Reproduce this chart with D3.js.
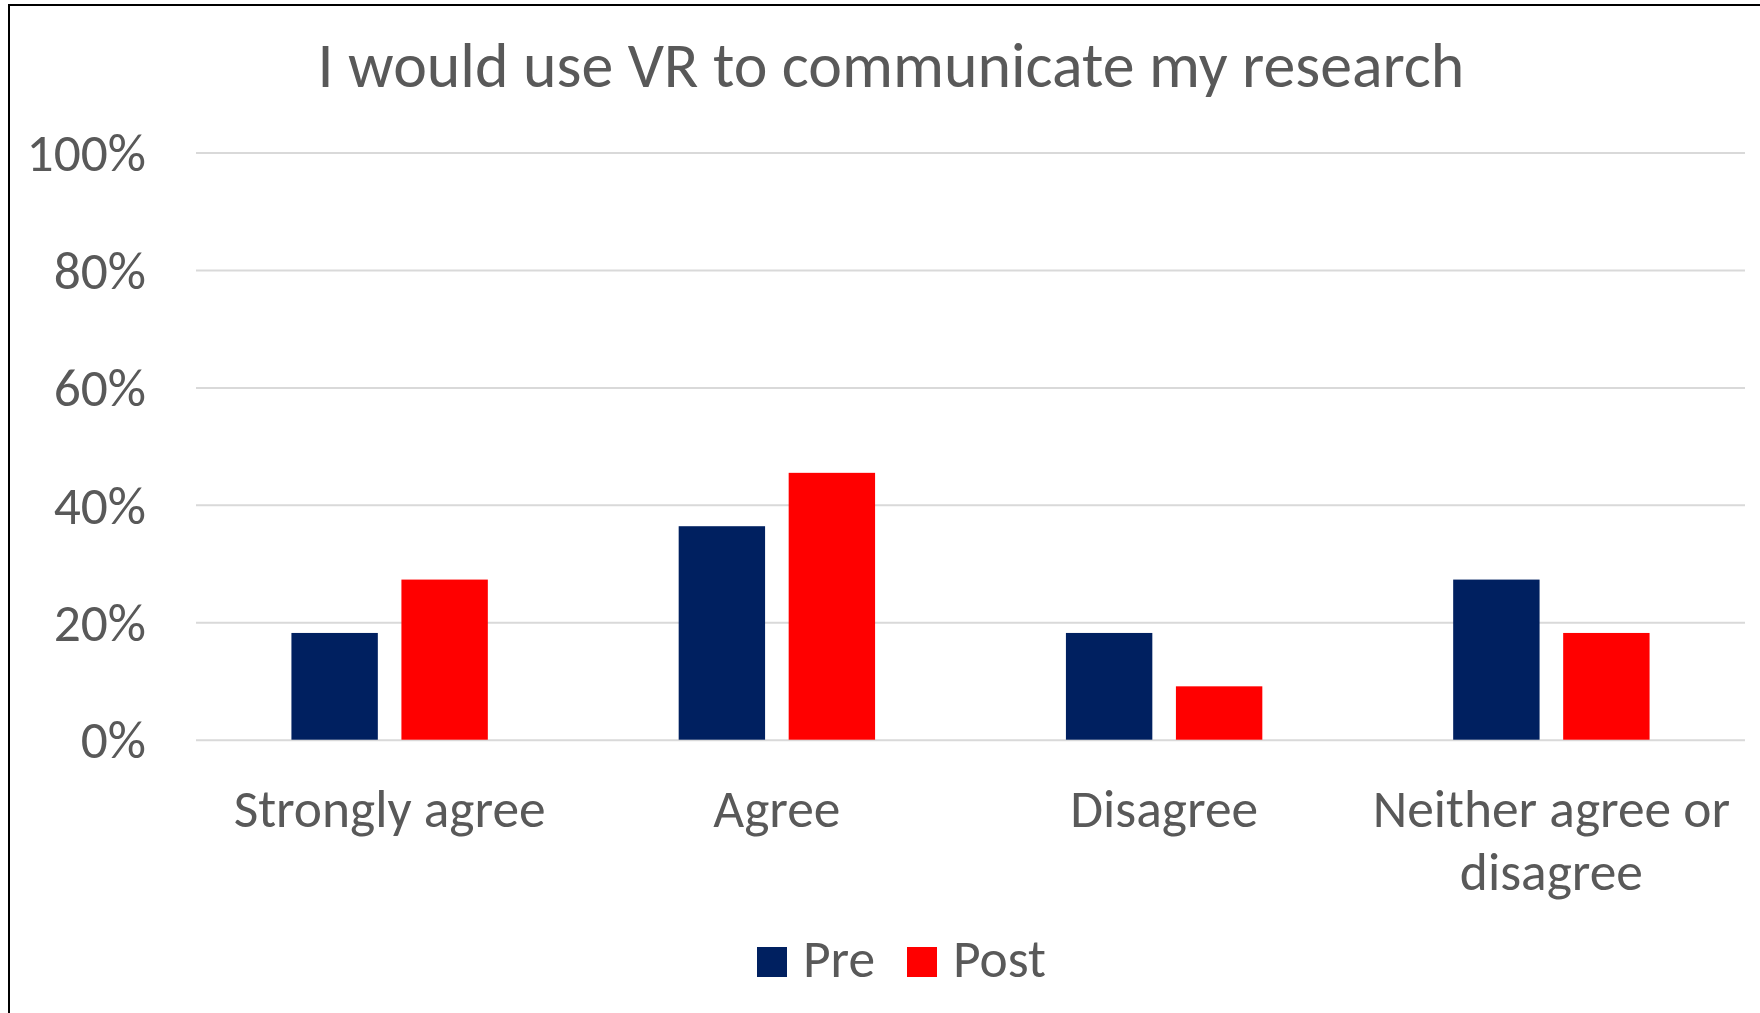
<!DOCTYPE html>
<html>
<head>
<meta charset="utf-8">
<script src="https://cdn.jsdelivr.net/npm/d3@7/dist/d3.min.js"></script>
<style>
  html, body { margin: 0; padding: 0; background: #fff; }
  svg { display: block; }
  text { font-family: Carlito, Calibri, Lato, "Open Sans", sans-serif; fill: #595959; }
</style>
</head>
<body>
<svg id="chart" width="1760" height="1013"></svg>
<script>
// Survey responses, share of respondents
const categories = ["Strongly agree", "Agree", "Disagree", "Neither agree or disagree"];
const series = ["Pre", "Post"];
const preValues = [2 / 11, 4 / 11, 2 / 11, 3 / 11];
const postValues = [3 / 11, 5 / 11, 1 / 11, 2 / 11];
const yTicks = [0, 0.2, 0.4, 0.6, 0.8, 1.0];
const colors = ["#002060", "#FF0000"];
const title = "I would use VR to communicate my research";

const svg = d3.select("#chart");
const W = 1760, H = 1013;

// frame of the chart area
svg.append("rect")
  .attr("x", 9).attr("y", 5)
  .attr("width", W + 20).attr("height", H + 20)
  .attr("fill", "#fff").attr("stroke", "#000").attr("stroke-width", 2);

const plot = { left: 196, right: 1745, top: 152.6, bottom: 739.7 };

const x = d3.scaleBand().domain(categories).range([plot.left, plot.right]).padding(0);
const groupWidth = 196.4;
const xs = d3.scaleBand().domain(series).range([0, groupWidth]).paddingInner(0.2145).paddingOuter(0);
const y = d3.scaleLinear().domain([0, 1]).range([plot.bottom, plot.top]);

// measure helper for fitting font sizes
function textWidth(str, size) {
  const t = svg.append("text").attr("font-size", size).text(str);
  const w = t.node().getComputedTextLength();
  t.remove();
  return w;
}
const axisFont = 48 * 312 / textWidth("Strongly agree", 48);
const titleFont = 60 * 1147 / textWidth(title, 60);

// y axis with gridlines
const yAxis = svg.append("g")
  .attr("transform", `translate(${plot.left},0)`)
  .call(d3.axisLeft(y).tickValues(yTicks).tickFormat(d3.format(".0%"))
    .tickSize(-(plot.right - plot.left)).tickPadding(50));
yAxis.select(".domain").remove();
yAxis.selectAll(".tick line").attr("stroke", "#D9D9D9").attr("stroke-width", 2);
yAxis.selectAll(".tick text")
  .attr("font-size", axisFont)
  .attr("fill", "#595959")
  .attr("font-family", null)
  .attr("dy", "0.34em");

// bars
const rows = categories.map((c, i) => ({ category: c, values: [preValues[i], postValues[i]] }));
const groups = svg.append("g").selectAll("g")
  .data(rows).join("g")
  .attr("transform", d => `translate(${x(d.category) + (x.bandwidth() - groupWidth) / 2},0)`);
groups.selectAll("rect")
  .data(d => d.values.map((v, j) => ({ s: series[j], v, j })))
  .join("rect")
  .attr("x", d => xs(d.s))
  .attr("width", xs.bandwidth())
  .attr("y", d => y(d.v))
  .attr("height", d => y(0) - y(d.v))
  .attr("fill", d => colors[d.j]);

// category labels, wrapped to the band width
const xAxis = svg.append("g")
  .attr("transform", `translate(0,${plot.bottom})`)
  .call(d3.axisBottom(x).tickSize(0).tickPadding(0));
xAxis.select(".domain").remove();
xAxis.selectAll(".tick text").each(function (d) {
  const t = d3.select(this);
  t.attr("font-size", axisFont).attr("fill", "#595959").attr("font-family", null)
    .attr("dy", null).attr("y", null).text(null);
  const words = d.split(" ");
  const lines = [];
  let line = [];
  words.forEach(w => {
    const trial = line.concat(w).join(" ");
    if (line.length && textWidth(trial, axisFont) > x.bandwidth() - 10) {
      lines.push(line.join(" "));
      line = [w];
    } else line.push(w);
  });
  lines.push(line.join(" "));
  lines.forEach((l, k) => {
    t.append("tspan").attr("x", 0).attr("y", 87 + k * 63).text(l);
  });
});

// title
svg.append("text")
  .attr("x", 891).attr("y", 87)
  .attr("text-anchor", "middle")
  .attr("font-size", titleFont)
  .text(title);

// legend
const legend = svg.append("g");
const legendItems = [
  { name: series[0], color: colors[0], sx: 757, tx: 803 },
  { name: series[1], color: colors[1], sx: 907, tx: 953 }
];
legendItems.forEach(it => {
  legend.append("rect").attr("x", it.sx).attr("y", 947).attr("width", 30).attr("height", 30).attr("fill", it.color);
  legend.append("text").attr("x", it.tx).attr("y", 977).attr("font-size", axisFont).text(it.name);
});
</script>
</body>
</html>
